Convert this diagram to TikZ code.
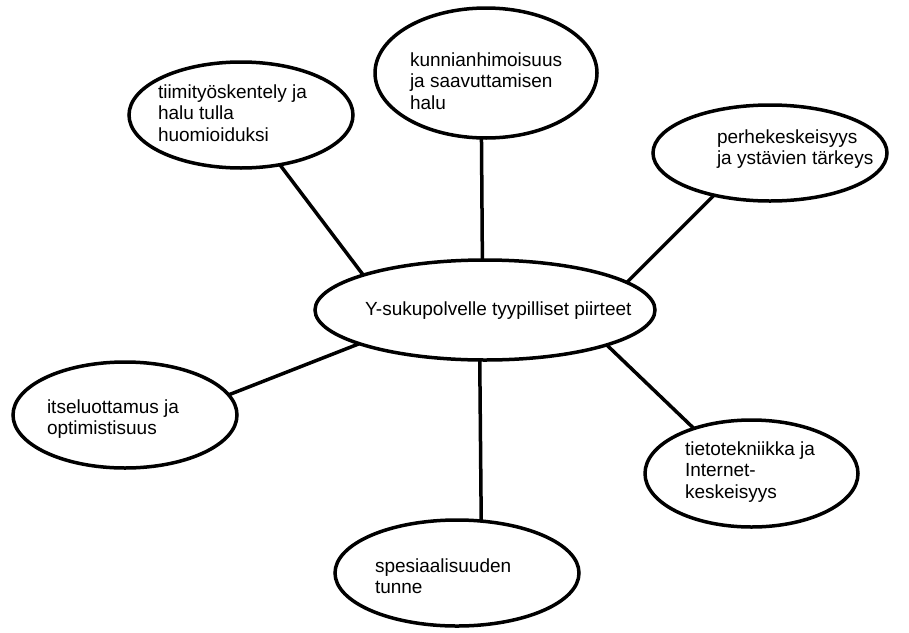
\documentclass[tikz,border=0pt]{standalone}
\usepackage{fontspec}
\setmainfont{Liberation Sans}
\usetikzlibrary{shapes.geometric}
\newcommand\tbox[1]{\parbox[t]{300pt}{\fontsize{19}{21.5}\selectfont\raggedright #1}}
\begin{document}
\begin{tikzpicture}[x=1pt,y=-1pt,
  ell/.style={draw=black, line width=3.5pt, ellipse, inner sep=0pt, outer sep=0pt, fill=white},
  txt/.style={anchor=base west, inner sep=0pt, outer sep=0pt, text=black},
  con/.style={draw=black, line width=3.5pt}]
\fill[white] (0,0) rectangle (909,632);
\useasboundingbox (0,0) rectangle (909,632);
% ellipses
\node[ell, minimum width=340pt, minimum height=100pt] (C)  at (485,310) {};
\node[ell, minimum width=222pt, minimum height=130pt] (T)  at (486,73) {};
\node[ell, minimum width=224pt, minimum height=106pt] (TL) at (241,115) {};
\node[ell, minimum width=234pt, minimum height=96pt]  (TR) at (770,153) {};
\node[ell, minimum width=224pt, minimum height=106pt] (L)  at (125,415) {};
\node[ell, minimum width=213pt, minimum height=107pt] (RB) at (751.5,473.5) {};
\node[ell, minimum width=244pt, minimum height=106pt] (B)  at (457,573) {};
% connectors
\draw[con] (C.93.4)  -- (T.266.5);
\draw[con] (C.164.6) -- (TL.308.9);
\draw[con] (C.11.9)  -- (TR.217.2);
\draw[con] (C.344.9) -- (RB.142.6);
\draw[con] (C.195.3) -- (L.11.8);
\draw[con] (C.264.3) -- (B.65.5);
% texts
\node[txt] (tC)  at (365,315) {\tbox{Y-sukupolvelle tyypilliset piirteet}};
\node[txt] (tT)  at (410,66)  {\tbox{kunnianhimoisuus\\ja saavuttamisen\\halu}};
\node[txt] (tTL) at (158,98)  {\tbox{tiimityöskentely ja\\halu tulla\\huomioiduksi}};
\node[txt] (tTR) at (717,143) {\tbox{perhekeskeisyys\\ja ystävien tärkeys}};
\node[txt] (tL)  at (47,413)  {\tbox{itseluottamus ja\\optimistisuus}};
\node[txt] (tRB) at (685,455) {\tbox{tietotekniikka ja\\Internet-\\keskeisyys}};
\node[txt] (tB)  at (375,572) {\tbox{spesiaalisuuden\\tunne}};
\end{tikzpicture}
\end{document}
